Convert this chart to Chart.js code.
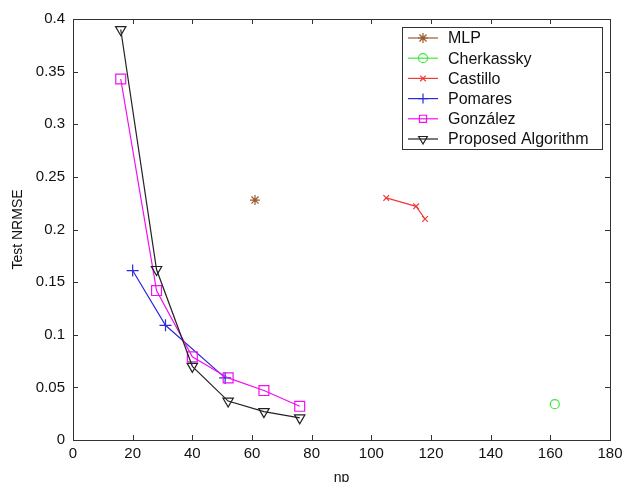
<!DOCTYPE html>
<html>
<head>
<meta charset="utf-8">
<script src="https://cdn.jsdelivr.net/npm/chart.js@4/dist/chart.umd.min.js"></script>
<style>
  html, body { margin: 0; padding: 0; background: #fff; }
  #wrap { width: 623px; height: 482px; }
</style>
</head>
<body>
<div id="wrap"><canvas id="nrmseChart"></canvas></div>
<script>
// values
const seriesNames = ["MLP", "Cherkassky", "Castillo", "Pomares", "González", "Proposed Algorithm"];

const npMLP = [61];
const errMLP = [0.228];

const npCherkassky = [161.5];
const errCherkassky = [0.034];

const npCastillo = [105, 115, 118];
const errCastillo = [0.230, 0.222, 0.210];

const npPomares = [20, 31, 51];
const errPomares = [0.161, 0.109, 0.059];

const npGonzalez = [16, 28, 40, 52, 64, 76];
const errGonzalez = [0.343, 0.142, 0.079, 0.059, 0.047, 0.032];

const npProposed = [16, 28, 40, 52, 64, 76];
const errProposed = [0.390, 0.162, 0.070, 0.037, 0.027, 0.021];

const xTicks = [0, 20, 40, 60, 80, 100, 120, 140, 160, 180];
const yTicks = [0, 0.05, 0.1, 0.15, 0.2, 0.25, 0.3, 0.35, 0.4];

const toPoints = (xs, ys) => xs.map((x, i) => ({ x: x, y: ys[i] }));

function series(label, xs, ys, color, style, radius, extra) {
    return Object.assign({
        label: label,
        data: toPoints(xs, ys),
        showLine: true,
        borderColor: color,
        backgroundColor: "rgba(0,0,0,0)",
        borderWidth: 1.2,
        pointStyle: style,
        pointRadius: radius,
        pointBorderColor: color,
        pointBackgroundColor: "rgba(0,0,0,0)",
        pointBorderWidth: 1.2,
        tension: 0,
    }, extra || {});
}

const datasets = [
    series(seriesNames[0], npMLP, errMLP, "#9a5b2e", "star", 5, { order: 6 }),
    series(seriesNames[1], npCherkassky, errCherkassky, "#3fe83f", "circle", 4.5, { order: 5 }),
    series(seriesNames[2], npCastillo, errCastillo, "#f03a3a", "crossRot", 4, { order: 4 }),
    series(seriesNames[3], npPomares, errPomares, "#2a2ad8", "cross", 6, { order: 3 }),
    series(seriesNames[4], npGonzalez, errGonzalez, "#f010f0", "rect", 7, { order: 2 }),
    series(seriesNames[5], npProposed, errProposed, "#222222", "triangle", 6, { order: 1, pointRotation: 180 }),
];

const family = "'Liberation Sans', Arial, sans-serif";
const tickFont = { family: family, size: 15 };
const titleFont = { family: family, size: 14 };

// MATLAB style box with inward ticks on all sides
const boxPlugin = {
    id: "box",
    afterDatasetsDraw(chart) {
        const { ctx, chartArea: a, scales } = chart;
        ctx.save();
        ctx.strokeStyle = "#333";
        ctx.lineWidth = 1;
        ctx.strokeRect(a.left + 0.5, a.top + 0.5, a.right - a.left, a.bottom - a.top);
        ctx.beginPath();
        xTicks.forEach(v => {
            const px = Math.round(scales.x.getPixelForValue(v)) + 0.5;
            ctx.moveTo(px, a.bottom); ctx.lineTo(px, a.bottom - 5);
            ctx.moveTo(px, a.top); ctx.lineTo(px, a.top + 5);
        });
        yTicks.forEach(v => {
            const py = Math.round(scales.y.getPixelForValue(v)) + 0.5;
            ctx.moveTo(a.left, py); ctx.lineTo(a.left + 5, py);
            ctx.moveTo(a.right, py); ctx.lineTo(a.right - 5, py);
        });
        ctx.stroke();
        ctx.restore();
    },
    afterDraw(chart) {
        // legend box, top right
        const ctx = chart.ctx;
        const bx = 402, by = 27, bw = 200, bh = 122;
        ctx.save();
        ctx.fillStyle = "#fff";
        ctx.fillRect(bx, by, bw, bh);
        ctx.strokeStyle = "#333";
        ctx.lineWidth = 1;
        ctx.strokeRect(bx + 0.5, by + 0.5, bw, bh);
        ctx.font = "16px " + family;
        ctx.textBaseline = "middle";
        chart.data.datasets.forEach((ds, i) => {
            const y = by + 11 + i * 20.2;
            ctx.strokeStyle = ds.borderColor;
            ctx.lineWidth = 1.2;
            ctx.beginPath();
            ctx.moveTo(408, y); ctx.lineTo(438, y);
            ctx.stroke();
            ctx.fillStyle = "rgba(0,0,0,0)";
            Chart.helpers.drawPoint(ctx, {
                pointStyle: ds.pointStyle,
                radius: Math.min(ds.pointRadius, 5),
                rotation: ds.pointRotation || 0,
                borderWidth: 1.2,
            }, 423, y);
            ctx.fillStyle = "#111";
            ctx.fillText(ds.label, 448, y + 1);
        });
        ctx.restore();
    },
};

const config = {
    type: "scatter",
    data: { datasets: datasets },
    options: {
        responsive: true,
        maintainAspectRatio: false,
        animation: false,
        layout: { padding: { left: 0, right: 13, top: 19, bottom: 0 } },
        plugins: {
            legend: { display: false },
            tooltip: { enabled: false },
        },
        scales: {
            x: {
                type: "linear",
                min: 0,
                max: 180,
                afterBuildTicks: s => { s.ticks = xTicks.map(v => ({ value: v })); },
                afterFit: s => { s.height = 42; },
                grid: { display: false },
                border: { display: false },
                ticks: { color: "#111", font: tickFont, padding: -3, maxRotation: 0 },
                title: { display: true, text: "np", color: "#111", font: titleFont, padding: { top: 0, bottom: -5 } },
            },
            y: {
                type: "linear",
                min: 0,
                max: 0.4,
                afterBuildTicks: s => { s.ticks = yTicks.map(v => ({ value: v })); },
                afterFit: s => { s.width = 73; },
                grid: { display: false },
                border: { display: false },
                ticks: {
                    color: "#111",
                    font: tickFont,
                    padding: 0,
                    callback: v => String(parseFloat(v.toFixed(2))),
                },
                title: { display: true, text: "Test NRMSE", color: "#111", font: titleFont, padding: { top: 10, bottom: 0 } },
            },
        },
    },
    plugins: [boxPlugin],
};

const ctx = document.getElementById("nrmseChart").getContext("2d");
const nrmseChart = new Chart(ctx, config);
</script>
</body>
</html>
